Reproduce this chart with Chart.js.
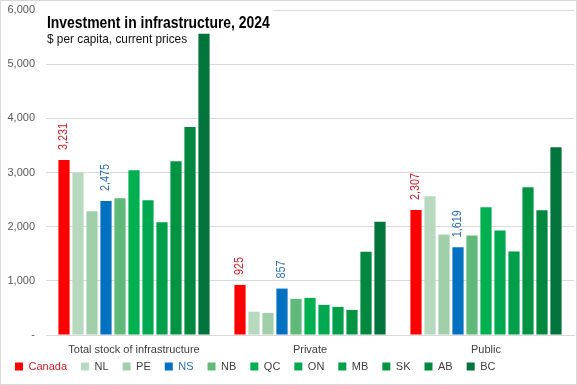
<!DOCTYPE html>
<html>
<head>
<meta charset="utf-8">
<script src="https://cdn.jsdelivr.net/npm/chart.js@4.4.1/dist/chart.umd.min.js"></script>
<style>
  html, body { margin: 0; padding: 0; background: #fff; }
  #wrap { position: relative; width: 575px; height: 383px; border: 1px solid #d9d9d9; }
</style>
</head>
<body>
<div id="wrap"><canvas id="chart" width="575" height="383"></canvas></div>
<script>
// Données du graphique
const categories = ["Total stock of infrastructure", "Private", "Public"];
const provinces = ["Canada", "NL", "PE", "NS", "NB", "QC", "ON", "MB", "SK", "AB", "BC"];
const canada = [3231, 925, 2307];
const nl = [3000, 430, 2561];
const pe = [2283, 407, 1857];
const ns = [2475, 857, 1619];
const nb = [2524, 667, 1839];
const qc = [3043, 685, 2358];
const on = [2487, 556, 1931];
const mb = [2080, 519, 1543];
const sk = [3210, 463, 2728];
const ab = [3838, 1537, 2302];
const bc = [5560, 2093, 3468];
const yTicks = [0, 1000, 2000, 3000, 4000, 5000, 6000];

const seriesValues = [canada, nl, pe, ns, nb, qc, on, mb, sk, ab, bc];
const colors = ["#ff0000", "#b6d9bf", "#a0cfaa", "#0070c0", "#5fba7a", "#00b050",
                "#00a84f", "#00a04b", "#009443", "#00893e", "#00743a"];
const labelColors = { "Canada": "#d0202c", "NS": "#2e6fae" };
const fontName = "'Liberation Sans', Arial, sans-serif";

const datasets = provinces.map((p, i) => ({
  label: p,
  data: seriesValues[i],
  backgroundColor: colors[i],
  categoryPercentage: 0.875,
  barPercentage: 0.8
}));

// Étiquettes verticales au-dessus des barres Canada et NS
const valueLabels = {
  id: "valueLabels",
  afterDatasetsDraw(chart) {
    const ctx = chart.ctx;
    chart.data.datasets.forEach((ds, i) => {
      const col = labelColors[ds.label];
      if (!col) return;
      chart.getDatasetMeta(i).data.forEach((bar, j) => {
        ctx.save();
        ctx.translate(bar.x, bar.y - 10);
        ctx.rotate(-Math.PI / 2);
        ctx.scale(0.9, 1);
        ctx.fillStyle = col;
        ctx.font = "12px " + fontName;
        ctx.textAlign = "left";
        ctx.textBaseline = "middle";
        ctx.fillText(ds.data[j].toLocaleString("en-US"), 0, 0);
        ctx.restore();
      });
    });
  }
};

// Titre dessiné dans la zone du graphique (police étroite simulée)
const titleBox = {
  id: "titleBox",
  afterLayout(chart) {
    // l'axe x est compact : on élargit sa zone de découpe pour les libellés
    const x = chart.scales.x;
    x.bottom = x.top + 26;
  },
  afterDraw(chart) {
    const ctx = chart.ctx;
    const left = chart.chartArea.left;
    ctx.save();
    ctx.font = "bold 16px " + fontName;
    const title = "Investment in infrastructure, 2024";
    const w = ctx.measureText(title).width * 0.87;
    ctx.fillStyle = "#fff";
    ctx.fillRect(left, 4, w + 4, 24);
    ctx.translate(left + 1, 0);
    ctx.save();
    ctx.scale(0.87, 1);
    ctx.fillStyle = "#000";
    ctx.fillText(title, 0, 23);
    ctx.restore();
    ctx.scale(0.91, 1);
    ctx.font = "13px " + fontName;
    ctx.fillStyle = "#111";
    ctx.fillText("$ per capita, current prices", 0, 38);
    ctx.restore();
  }
};

new Chart(document.getElementById("chart"), {
  type: "bar",
  data: { labels: categories, datasets: datasets },
  options: {
    responsive: false,
    animation: false,
    layout: { padding: { top: 9, right: 2, left: 0, bottom: 2 } },
    scales: {
      x: {
        grid: { display: false, drawTicks: false },
        border: { color: "#d9d9d9" },
        ticks: { color: "#404040", padding: 8, font: { family: fontName, size: 11 } },
        afterFit(scale) { scale.height = 12; }
      },
      y: {
        min: 0,
        max: 6000,
        afterBuildTicks(axis) { axis.ticks = yTicks.map(v => ({ value: v })); },
        afterFit(scale) {
          scale.width = 45;
          scale.paddingTop = 0;
          scale.paddingBottom = 0;
        },
        grid: { color: "#d9d9d9", drawTicks: false },
        border: { display: false },
        ticks: {
          color: "#595959",
          padding: 11,
          font: { family: fontName, size: 11 },
          callback: v => v === 0 ? "-" : v.toLocaleString("en-US")
        }
      }
    },
    plugins: {
      legend: {
        position: "bottom",
        align: "start",
        labels: {
          boxWidth: 8,
          boxHeight: 8,
          padding: 14,
          font: { family: fontName, size: 11 },
          generateLabels(chart) {
            return chart.data.datasets.map((ds, i) => ({
              text: ds.label,
              fillStyle: ds.backgroundColor,
              strokeStyle: ds.backgroundColor,
              lineWidth: 0,
              fontColor: labelColors[ds.label] || "#404040",
              datasetIndex: i
            }));
          }
        }
      },
      tooltip: { enabled: false }
    }
  },
  plugins: [valueLabels, titleBox]
});
</script>
</body>
</html>
